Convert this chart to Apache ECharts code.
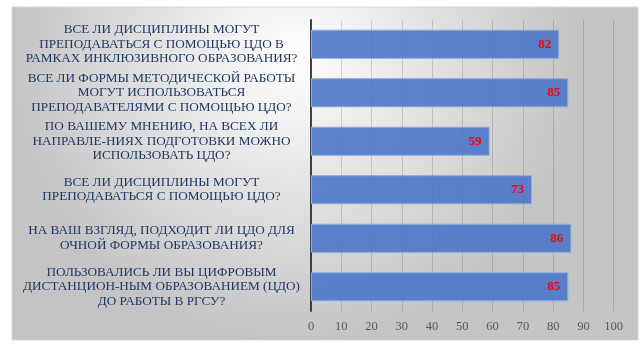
<!DOCTYPE html>
<html>
<head>
<meta charset="utf-8">
<script src="https://cdn.jsdelivr.net/npm/echarts@6/dist/echarts.min.js"></script>
<style>
html,body{margin:0;padding:0;background:#fff;}
#chart{width:642px;height:347px;}
</style>
</head>
<body>
<div id="chart"></div>
<script>
var categories = [
  "ВСЕ ЛИ ДИСЦИПЛИНЫ МОГУТ\nПРЕПОДАВАТЬСЯ С ПОМОЩЬЮ ЦДО В\nРАМКАХ ИНКЛЮЗИВНОГО ОБРАЗОВАНИЯ?",
  "ВСЕ ЛИ ФОРМЫ МЕТОДИЧЕСКОЙ РАБОТЫ\nМОГУТ ИСПОЛЬЗОВАТЬСЯ\nПРЕПОДАВАТЕЛЯМИ С ПОМОЩЬЮ ЦДО?",
  "ПО ВАШЕМУ МНЕНИЮ, НА ВСЕХ ЛИ\nНАПРАВЛЕ-НИЯХ ПОДГОТОВКИ МОЖНО\nИСПОЛЬЗОВАТЬ ЦДО?",
  "ВСЕ ЛИ ДИСЦИПЛИНЫ МОГУТ\nПРЕПОДАВАТЬСЯ С ПОМОЩЬЮ ЦДО?",
  "НА ВАШ ВЗГЛЯД, ПОДХОДИТ ЛИ ЦДО ДЛЯ\nОЧНОЙ ФОРМЫ ОБРАЗОВАНИЯ?",
  "ПОЛЬЗОВАЛИСЬ ЛИ ВЫ ЦИФРОВЫМ\nДИСТАНЦИОН-НЫМ ОБРАЗОВАНИЕМ (ЦДО)\nДО РАБОТЫ В РГСУ?"
];
var values = [82, 85, 59, 73, 86, 85];
var xTicks = [0, 10, 20, 30, 40, 50, 60, 70, 80, 90, 100];

var chart = echarts.init(document.getElementById('chart'), null, {renderer: 'canvas'});
var serif = '"Liberation Serif", "Times New Roman", serif';
chart.setOption({
  animation: false,
  graphic: [{
    type: 'rect',
    z: -10,
    shape: {x: 12, y: 7, width: 626, height: 333},
    style: {
      fill: new echarts.graphic.RadialGradient(0.45, 0.15, 0.85, [
        {offset: 0, color: '#ffffff'},
        {offset: 1, color: '#c4c4c4'}
      ]),
      stroke: '#d8d8d8',
      lineWidth: 1
    }
  }],
  grid: {left: 311, right: 28.3, top: 20, bottom: 36},
  xAxis: {
    type: 'value',
    min: xTicks[0],
    max: xTicks[xTicks.length - 1],
    interval: 10,
    axisLine: {show: false},
    axisTick: {show: false},
    axisLabel: {color: '#595959', fontFamily: serif, fontSize: 12.5, margin: 9},
    splitLine: {show: true, lineStyle: {color: 'rgba(0,0,0,0.14)', width: 1}}
  },
  yAxis: {
    type: 'category',
    inverse: true,
    data: categories,
    axisLine: {show: true, lineStyle: {color: '#404040', width: 2}},
    axisTick: {show: false},
    axisLabel: {
      align: 'center',
      margin: 149.5,
      color: '#1f3864',
      fontFamily: serif,
      fontSize: 13.2,
      lineHeight: 14.5
    }
  },
  series: [{
    type: 'bar',
    data: values,
    barCategoryGap: '40%',
    itemStyle: {color: 'rgba(76,119,200,0.9)', borderColor: '#8eaadb', borderWidth: 1},
    label: {
      show: true,
      position: 'insideRight',
      distance: 8,
      color: '#ff0000',
      fontWeight: 'bold',
      fontFamily: serif,
      fontSize: 13
    }
  }]
});
</script>
</body>
</html>
